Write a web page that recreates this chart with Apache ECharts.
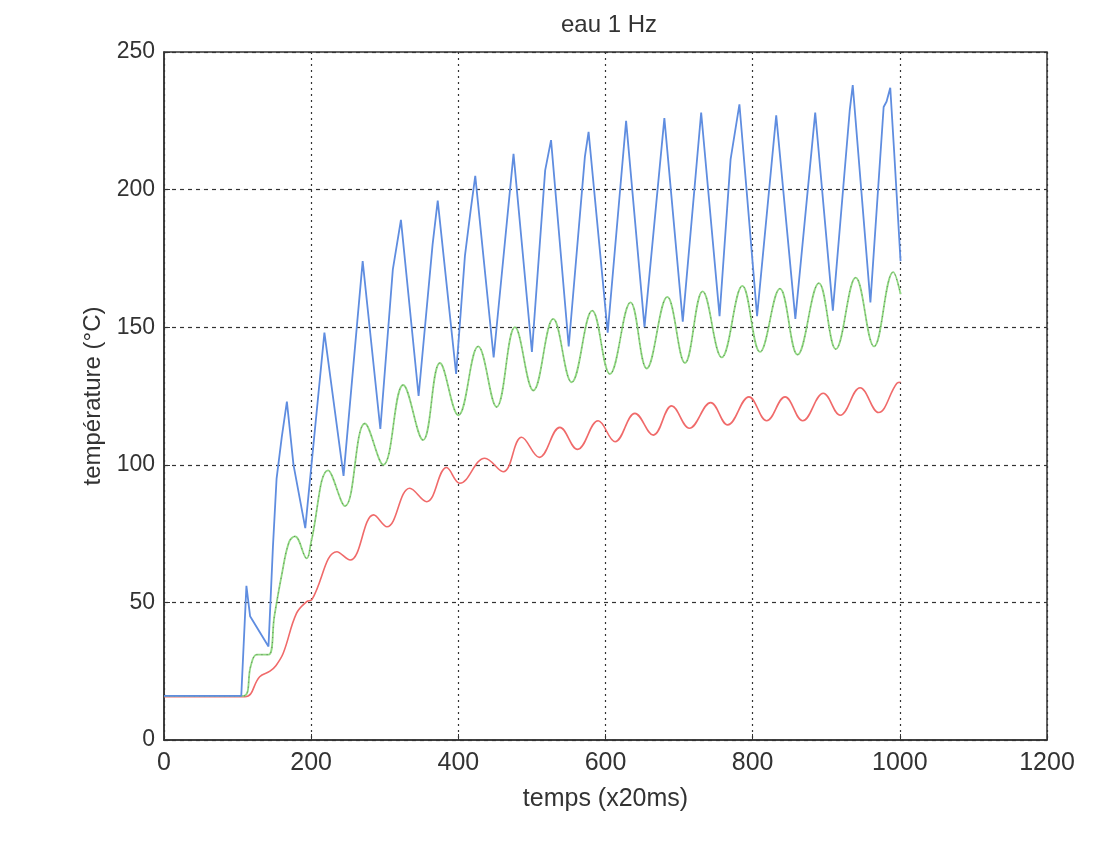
<!DOCTYPE html>
<html>
<head>
<meta charset="utf-8">
<script src="https://cdn.jsdelivr.net/npm/echarts@6/dist/echarts.min.js"></script>
<style>html,body{margin:0;padding:0;background:#fff}#c{width:1102px;height:858px}</style>
</head>
<body>
<div id="c"></div>
<script>
const titleText = "eau 1 Hz";
const xName = "temps (x20ms)";
const yName = "température (°C)";

const blueT = [0,105,112,117,142,148,153,160,167,176,192,218,244,262,270,294,311,322,346,365,372,397,409,417,423,448,475,500,518,526,550,572,577,603,628,653,680,705,730,755,770,782,806,832,858,885,909,932,936,960,978,982,987,992,1001];
const blueV = [16,16,56,45,34,70,95,110,123,100,77,148,96,150,174,113,171,189,125,180,196,133,176,193,205,139,213,141,207,218,143,212,221,148,225,150,226,152,228,154,211,231,154,227,153,228,156,229,238,159,230,232,237,215,174];

const greenT = [0,108,118,126,142,150,160,170,178,194,200,223,246,273,298,325,352,375,400,427,452,477,502,529,554,582,606,634,656,684,708,732,758,786,810,837,861,890,913,940,965,991,1001];
const greenV = [16,16,27,31,31,45,60,72,74,66,72,98,85,115,100,129,109,137,118,143,121,150,127,153,130,156,133,159,135,161,137,163,139,165,141,164,140,166,142,168,143,170,162];

const redT = [0,110,130,144,152,162,180,194,201,235,253,285,303,334,357,384,402,436,461,486,510,538,562,590,613,640,665,690,714,743,766,795,819,844,868,896,919,946,971,996,1001];
const redV = [15.7,15.7,23,25,27,31.5,46,50.3,51,68.4,65.4,81.8,77.5,91.5,86.6,99,93.3,102.4,97.5,110,102.7,113.6,105.6,116,108.4,118.7,110.8,121.4,113.3,122.6,114.5,124.7,116,124.7,116,126,118,128,119,129.6,130];

const xTicks = [0,200,400,600,800,1000,1200];
const yTicks = [0,50,100,150,200,250];

const zip = (a,b) => a.map((v,i)=>[v,b[i]]);
const font = "Liberation Sans";

const chart = echarts.init(document.getElementById('c'), null, {renderer:'canvas'});
chart.setOption({
  backgroundColor:'#fff',
  animation:false,
  title:{text:titleText,left:604,top:8,textAlign:'center',textStyle:{fontFamily:font,fontSize:24,fontWeight:'normal',color:'#333'}},
  grid:{left:164,right:55,top:52,bottom:118,show:true,borderColor:'#333',borderWidth:1.5,backgroundColor:'transparent'},
  xAxis:{type:'value',min:xTicks[0],max:xTicks[xTicks.length-1],interval:200,
    name:xName,nameLocation:'middle',nameGap:47,
    nameTextStyle:{fontFamily:font,fontSize:25,color:'#333'},
    axisLine:{show:true,lineStyle:{color:'#333',width:1.5}},
    axisTick:{show:true,inside:true,length:6,lineStyle:{color:'#333'}},
    axisLabel:{fontFamily:font,fontSize:25,color:'#333',margin:11,formatter:v=>String(v)},
    splitLine:{show:true,lineStyle:{color:'#333',type:[2,4],width:1.2}}},
  yAxis:{type:'value',min:yTicks[0],max:yTicks[yTicks.length-1],interval:50,
    name:yName,nameLocation:'middle',nameGap:57,nameRotate:90,
    nameTextStyle:{fontFamily:font,fontSize:24,color:'#333'},
    axisLine:{show:true,lineStyle:{color:'#333',width:1.5}},
    axisTick:{show:true,inside:true,length:6,lineStyle:{color:'#333'}},
    axisLabel:{fontFamily:font,fontSize:23,color:'#333',margin:9},
    splitLine:{show:true,lineStyle:{color:'#333',type:[4,4],width:1.2}}},
  series:[
    {type:'line',data:zip(redT,redV),smooth:0.4,symbol:'none',lineStyle:{color:'#f06a6a',width:1.6}},
    {type:'line',data:zip(greenT,greenV),smooth:0.4,symbol:'none',lineStyle:{color:'#8fd880',width:1.8}},
    {type:'line',data:zip(greenT,greenV),smooth:0.4,symbol:'none',lineStyle:{color:'#444',width:1,type:[1,4],opacity:0.6}},
    {type:'line',data:zip(blueT,blueV),symbol:'none',lineStyle:{color:'#5f8de0',width:1.8}}
  ]
});
</script>
</body>
</html>
